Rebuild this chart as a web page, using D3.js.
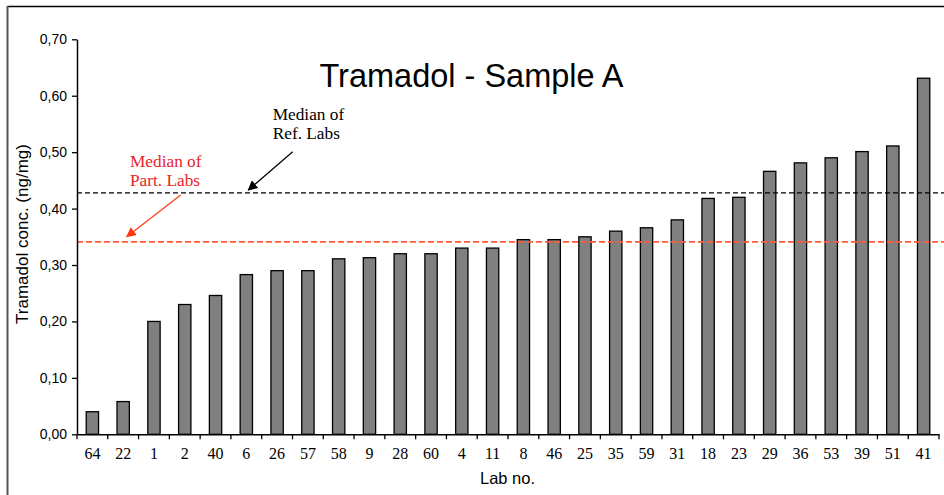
<!DOCTYPE html>
<html><head><meta charset="utf-8">
<script src="https://cdn.jsdelivr.net/npm/d3@7"></script>
<style>html,body{margin:0;padding:0;background:#fff;}svg{display:block;}</style>
</head><body>
<svg id="chart" width="944" height="495"></svg>
<script>
const labs = ["64","22","1","2","40","6","26","57","58","9","28","60","4","11","8","46","25","35","59","31","18","23","29","36","53","39","51","41"];
const values = [0.040,0.058,0.200,0.230,0.246,0.283,0.290,0.290,0.311,0.313,0.320,0.320,0.330,0.330,0.345,0.345,0.350,0.360,0.366,0.380,0.418,0.420,0.466,0.481,0.490,0.501,0.511,0.631];
const yTicks = [0,0.1,0.2,0.3,0.4,0.5,0.6,0.7];
const medianRef = 0.428;
const medianPart = 0.341;
const title = "Tramadol - Sample A";
const yTitle = "Tramadol conc. (ng/mg)";
const xTitle = "Lab no.";
const refLabel = ["Median of","Ref. Labs"];
const partLabel = ["Median of","Part. Labs"];

const svg = d3.select("#chart");
const pL = 77, pR = 939, pT = 39.3, pB = 434.3;

const x = d3.scaleBand().domain(labs).range([pL, pR]).paddingInner(0.6).paddingOuter(0.3);
const y = d3.scaleLinear().domain([0, 0.7]).range([pB, pT]);

// outer frame (top & left visible)
svg.append("line").attr("x1",7.5).attr("x2",944).attr("y1",6.5).attr("y2",6.5).attr("stroke","#000").attr("stroke-width",1.5);
svg.append("line").attr("x1",7.5).attr("x2",7.5).attr("y1",6).attr("y2",495).attr("stroke","#555").attr("stroke-width",2);

// title
svg.append("text").attr("x",471.5).attr("y",86.7).attr("text-anchor","middle")
  .attr("font-family","'Liberation Sans', Arial, sans-serif").attr("font-size",32.5).attr("fill","#000").text(title);

// bars
svg.append("g").selectAll("rect").data(values).join("rect")
  .attr("x",(d,i)=>x(labs[i])).attr("width",x.bandwidth())
  .attr("y",d=>y(d)).attr("height",d=>y(0)-y(d))
  .attr("fill","#808080").attr("stroke","#000").attr("stroke-width",1.3);

// median lines
svg.append("line").attr("x1",pL).attr("x2",944).attr("y1",y(medianRef)).attr("y2",y(medianRef))
  .attr("stroke","#000").attr("stroke-width",1.3).attr("stroke-dasharray","5,3");
svg.append("line").attr("x1",pL).attr("x2",944).attr("y1",y(medianPart)).attr("y2",y(medianPart))
  .attr("stroke","#ff5a3a").attr("stroke-width",1.8).attr("stroke-dasharray","6,3");

// y axis
const yAxis = d3.axisLeft(y).tickValues(yTicks).tickSize(5).tickSizeOuter(0)
  .tickFormat(d=>d3.format(".2f")(d).replace(".",","));
const gy = svg.append("g").attr("transform",`translate(${pL},0)`).call(yAxis);
gy.select(".domain").attr("stroke","#000").attr("stroke-width",1.5);
gy.selectAll(".tick line").attr("stroke","#000").attr("stroke-width",1.3);
gy.selectAll(".tick text").attr("font-family","'Liberation Sans', Arial, sans-serif").attr("font-size",14).attr("fill","#000").attr("x",-10);

// x axis
const xAxis = d3.axisBottom(x).tickSize(0).tickSizeOuter(0);
const gx = svg.append("g").attr("transform",`translate(0,${pB})`).call(xAxis);
gx.select(".domain").attr("stroke","#000").attr("stroke-width",1.5);
gx.selectAll(".tick text").attr("font-family","'Liberation Serif', 'Times New Roman', serif").attr("font-size",16).attr("fill","#000").attr("y",13);
// boundary ticks
const step = x.step();
const bounds = d3.range(labs.length+1).map(i=>pL + i*step);
svg.append("g").selectAll("line").data(bounds).join("line")
  .attr("x1",d=>d).attr("x2",d=>d).attr("y1",pB).attr("y2",pB+5)
  .attr("stroke","#000").attr("stroke-width",1.3);

// axis titles
svg.append("text").attr("transform","translate(28,234) rotate(-90)").attr("text-anchor","middle")
  .attr("font-family","'Liberation Sans', Arial, sans-serif").attr("font-size",17).attr("fill","#000").text(yTitle);
svg.append("text").attr("x",507.5).attr("y",483.5).attr("text-anchor","middle")
  .attr("font-family","'Liberation Sans', Arial, sans-serif").attr("font-size",16.5).attr("fill","#000").text(xTitle);

// annotations
const defs = svg.append("defs");
function marker(id,color){
  defs.append("marker").attr("id",id).attr("viewBox","0 0 10 10").attr("refX",9).attr("refY",5)
    .attr("markerWidth",10).attr("markerHeight",10).attr("markerUnits","userSpaceOnUse").attr("orient","auto")
    .append("path").attr("d","M0,0 L10,5 L0,10 z").attr("fill",color);
}
marker("arrBlack","#000");
marker("arrRed","#ff3a10");
svg.append("line").attr("x1",292.7).attr("y1",151.7).attr("x2",248.3).attr("y2",190)
  .attr("stroke","#000").attr("stroke-width",1.2).attr("marker-end","url(#arrBlack)");
svg.append("line").attr("x1",180.7).attr("y1",195).attr("x2",126.7).attr("y2",236.7)
  .attr("stroke","#ff3a10").attr("stroke-width",1.2).attr("marker-end","url(#arrRed)");

const refT = svg.append("text").attr("font-family","'Liberation Serif', 'Times New Roman', serif").attr("font-size",17.3).attr("fill","#000");
refLabel.forEach((t,i)=>refT.append("tspan").attr("x",272.7).attr("y",120+i*18.5).text(t));
const partT = svg.append("text").attr("font-family","'Liberation Serif', 'Times New Roman', serif").attr("font-size",17.3).attr("fill","#e8262a");
partLabel.forEach((t,i)=>partT.append("tspan").attr("x",130).attr("y",166.7+i*19).text(t));
</script>
</body></html>
